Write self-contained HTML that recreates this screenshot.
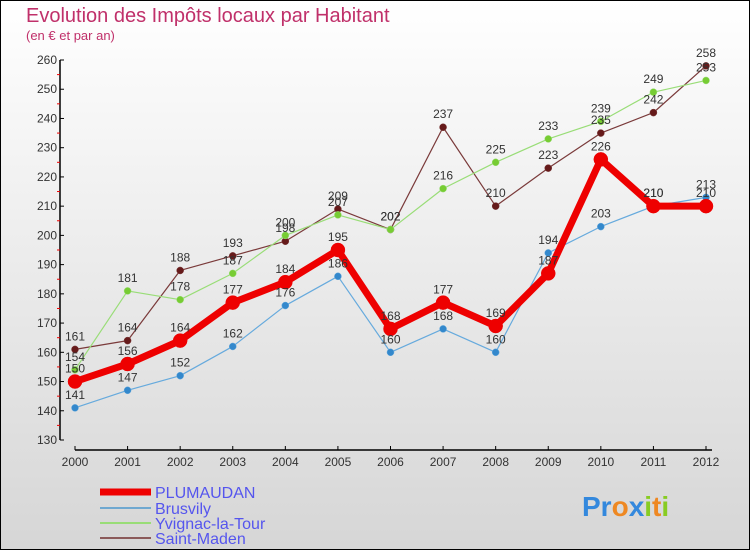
<!DOCTYPE html>
<html><head><meta charset="utf-8"><style>
body{margin:0}
#c{width:750px;height:550px;position:relative;font-family:"Liberation Sans",sans-serif}
</style></head><body>
<div id="c">
<svg id="svg" width="750" height="550" xmlns="http://www.w3.org/2000/svg">
<defs><linearGradient id="bg" x1="0" y1="0" x2="0" y2="1"><stop offset="0" stop-color="#ffffff"/><stop offset="1" stop-color="#d6d6d6"/></linearGradient></defs>
<rect x="0.5" y="0.5" width="749" height="549" fill="url(#bg)" stroke="#000"/>
<text x="26" y="22" font-size="20" fill="#c0306a">Evolution des Impôts locaux par Habitant</text>
<text x="26" y="40" font-size="13" fill="#c0306a">(en € et par an)</text>
<g id="axes"></g><g id="series"></g><g id="labels"></g>
<g font-size="16" fill="#5555ee">
<line x1="100" y1="492" x2="151" y2="492" stroke="#ee0000" stroke-width="7"/>
<text x="155" y="498">PLUMAUDAN</text>
<line x1="100" y1="508" x2="151" y2="508" stroke="#6fa8d0" stroke-width="2"/>
<text x="155" y="514">Brusvily</text>
<line x1="100" y1="523" x2="151" y2="523" stroke="#99dd77" stroke-width="2"/>
<text x="155" y="529">Yvignac-la-Tour</text>
<line x1="100" y1="538" x2="151" y2="538" stroke="#8b5a5a" stroke-width="2"/>
<text x="155" y="544">Saint-Maden</text>
</g>
<text x="582" y="516" font-size="28" font-weight="bold"><tspan fill="#3388dd">Pr</tspan><tspan fill="#ee8822">o</tspan><tspan fill="#3388dd">x</tspan><tspan fill="#88cc22">i</tspan><tspan fill="#ee8822">t</tspan><tspan fill="#88cc22">i</tspan></text>
</svg></div>
<script>
const years=[2000,2001,2002,2003,2004,2005,2006,2007,2008,2009,2010,2011,2012];
const plumaudan=[150,156,164,177,184,195,168,177,169,187,226,210,210];
const brusvily=[141,147,152,162,176,186,160,168,160,194,203,210,213];
const yvignac=[154,181,178,187,200,207,202,216,225,233,239,249,253];
const saintMaden=[161,164,188,193,198,209,202,237,210,223,235,242,258];
const yTicks=[130,140,150,160,170,180,190,200,210,220,230,240,250,260];
const NS="http://www.w3.org/2000/svg";
const X=i=>75+i*(706-75)/12;
const Y=v=>440-(v-130)*(380/130);
function mk(tag,attrs,parent){const e=document.createElementNS(NS,tag);for(const k in attrs)e.setAttribute(k,attrs[k]);parent.appendChild(e);return e;}
const axes=document.getElementById('axes'),ser=document.getElementById('series'),lab=document.getElementById('labels');
let ya=mk('line',{x1:60,y1:Y(260),x2:60,y2:Y(130),stroke:'#000','stroke-width':1.5},axes);


yTicks.forEach(v=>{
 mk('line',{x1:60,y1:Y(v),x2:64,y2:Y(v),stroke:'#000'},axes);
 if(v<260)mk('line',{x1:57,y1:Y(v+5),x2:60,y2:Y(v+5),stroke:'#e00'},axes);
 const t=mk('text',{x:57,y:Y(v)+4,'font-size':12,'text-anchor':'end',fill:'#333'},axes);
 t.textContent=v;
 
 
});
let xa=mk('line',{x1:75,y1:450,x2:712,y2:450,stroke:'#000','stroke-width':1.5},axes);


years.forEach((y,i)=>{
 mk('line',{x1:X(i),y1:446,x2:X(i),y2:450,stroke:'#000'},axes);
 const t=mk('text',{x:X(i),y:466,'font-size':12,'text-anchor':'middle',fill:'#333'},axes);
 t.textContent=y;
 
 
});
function draw(data,name,color,lw,r,dot){
 const pts=data.map((v,i)=>X(i)+','+Y(v)).join(' ');
 const pl=mk('polyline',{points:pts,fill:'none',stroke:color,'stroke-width':lw,'stroke-linejoin':'round'},ser);
 
 
 data.forEach((v,i)=>{
  const c=mk('circle',{cx:X(i),cy:Y(v),r:r,fill:dot,stroke:color,'stroke-width':0.5},ser);
  
  
  const t=mk('text',{x:X(i),y:Y(v)-9,'font-size':12,'text-anchor':'middle',fill:'#333'},lab);
  t.textContent=v;
  
  
 });
}
draw(saintMaden,'saint-maden','#7a3a3a',1.2,3.5,'#661a1a');
draw(yvignac,'yvignac','#99dd77',1.2,3.5,'#77cc33');
draw(brusvily,'brusvily','#66aadd',1.2,3.5,'#3388cc');
draw(plumaudan,'plumaudan','#ee0000',7,7,'#ee0000');
</script>
</body></html>
